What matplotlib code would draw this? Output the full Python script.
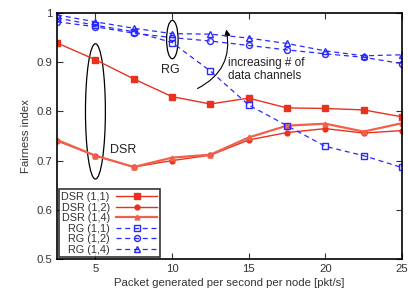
import matplotlib
matplotlib.use("Agg")
import matplotlib.pyplot as plt
from matplotlib.patches import Ellipse, FancyArrowPatch

plt.rcParams['font.family'] = ['Liberation Sans', 'DejaVu Sans']

x = [2.5, 5, 7.5, 10, 12.5, 15, 17.5, 20, 22.5, 25]
dsr_11 = [0.939, 0.905, 0.866, 0.830, 0.815, 0.827, 0.807, 0.806, 0.803, 0.789]
dsr_12 = [0.740, 0.710, 0.687, 0.700, 0.711, 0.742, 0.757, 0.765, 0.756, 0.761]
dsr_14 = [0.742, 0.710, 0.687, 0.706, 0.712, 0.747, 0.771, 0.775, 0.759, 0.776]
rg_11 = [0.990, 0.975, 0.962, 0.940, 0.882, 0.813, 0.771, 0.729, 0.710, 0.686]
rg_12 = [0.982, 0.972, 0.959, 0.950, 0.943, 0.934, 0.925, 0.917, 0.910, 0.897]
rg_14 = [0.996, 0.982, 0.969, 0.958, 0.957, 0.949, 0.938, 0.923, 0.913, 0.915]
xticks = [5, 10, 15, 20, 25]
yticks = [0.5, 0.6, 0.7, 0.8, 0.9, 1.0]
yticklabels = ['0.5', '0.6', '0.7', '0.8', '0.9', '1']

red = '#e8321e'
blue = '#2a2aff'

fig = plt.figure(figsize=(4.08, 2.95), dpi=100)
ax = fig.add_axes([0.140, 0.122, 0.845, 0.834])

ax.plot(x, dsr_11, color=red, lw=1.0, marker='s', ms=4.5, label='DSR (1,1)')
ax.plot(x, dsr_12, color=red, lw=1.0, marker='o', ms=3.5, label='DSR (1,2)')
ax.plot(x, dsr_14, color='#f0604a', lw=1.6, marker='^', ms=3.5, label='DSR (1,4)')
ax.plot(x, rg_11, color=blue, lw=0.9, ls=(0, (4, 3)), marker='s', ms=4.3, mfc='none', label='RG (1,1)')
ax.plot(x, rg_12, color=blue, lw=0.9, ls=(0, (4, 3)), marker='o', ms=4.3, mfc='none', label='RG (1,2)')
ax.plot(x, rg_14, color=blue, lw=0.9, ls=(0, (4, 3)), marker='^', ms=4.3, mfc='none', label='RG (1,4)')

ax.set_xlim(2.5, 25)
ax.set_ylim(0.5, 1.0)
ax.set_xticks(xticks)
ax.set_yticks(yticks)
ax.set_yticklabels(yticklabels)
ax.tick_params(direction='in', top=True, right=True, labelsize=8.2, length=4, width=0.8, colors='#333333')
for s in ax.spines.values():
    s.set_linewidth(1.2)
ax.set_xlabel('Packet generated per second per node [pkt/s]', fontsize=8.2, color='#333333', labelpad=3)
ax.set_ylabel('Fairness index', fontsize=8.2, color='#333333', labelpad=4)

# annotations
ax.add_patch(Ellipse((5, 0.80), 1.3, 0.275, fill=False, ec='black', lw=0.9))
ax.text(5.95, 0.722, 'DSR', fontsize=9, color='#222222', va='center', ha='left')
ax.add_patch(Ellipse((10.02, 0.946), 0.75, 0.078, fill=False, ec='black', lw=0.9))
ax.text(9.9, 0.884, 'RG', fontsize=9, color='#222222', va='center', ha='center')
arr = FancyArrowPatch((11.5, 0.844), (13.5, 0.972), connectionstyle='arc3,rad=0.4',
                      arrowstyle='-|>', mutation_scale=9, color='black', lw=0.8)
ax.add_patch(arr)
ax.text(13.65, 0.885, 'increasing # of\ndata channels', fontsize=8.5, color='#222222',
        va='center', ha='left', linespacing=1.1)

leg = ax.legend(loc='lower left', markerfirst=False, fontsize=7.8, frameon=True, fancybox=False,
                edgecolor='black', handlelength=3.8, labelspacing=0.05, borderpad=0.25,
                handletextpad=0.6, borderaxespad=0.15)
leg.get_frame().set_linewidth(1.2)
for t in leg.get_texts():
    t.set_color('#333333')

fig.savefig('out.png', dpi=100)
